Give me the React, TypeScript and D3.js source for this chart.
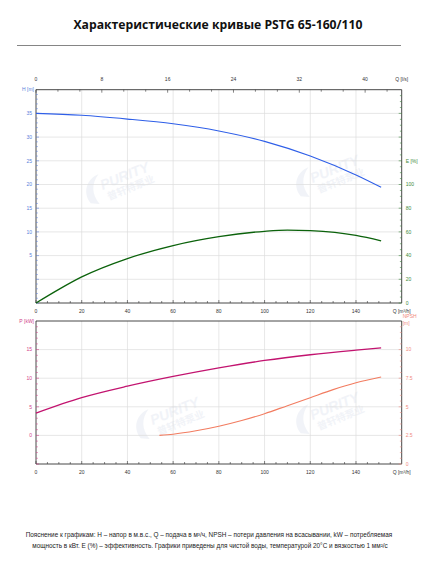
import React from "react";
import * as d3 from "d3";

// ---- data ----
const hQ = [0, 20, 40, 60, 80, 100, 120, 140, 151];
const hVal = [35, 34.6, 33.8, 32.8, 31.3, 29.1, 26, 22, 19.4];

const eQ = [0, 10, 20, 40, 60, 80, 100, 110, 120, 140, 151];
const eVal = [0, 11.5, 22, 37.5, 48.5, 56, 60.5, 61.5, 61, 57, 52.5];

const pQ = [0, 20, 40, 60, 80, 100, 120, 140, 151];
const pVal = [3.9, 6.6, 8.6, 10.3, 11.8, 13.1, 14.1, 14.9, 15.3];

const nQ = [54, 60, 70, 80, 90, 100, 110, 120, 130, 140, 151];
const nVal = [2.5, 2.6, 2.9, 3.3, 3.8, 4.4, 5.1, 5.8, 6.5, 7.1, 7.6];

const qTicksM3h = [0, 20, 40, 60, 80, 100, 120, 140];
const qTicksLs = [0, 8, 16, 24, 32, 40];
const hTicks = [5, 10, 15, 20, 25, 30, 35];
const eTicks = [0, 20, 40, 60, 80, 100];
const pTicks = [0, 5, 10, 15];
const nTicks = [0, 2.5, 5, 7.5, 10];

const title = "Характеристические кривые PSTG 65-160/110";
const note1 = "Пояснение к графикам: H – напор в м.в.с., Q – подача в м³/ч, NPSH – потери давления на всасывании, kW – потребляемая";
const note2 = "мощность в кВт. E (%) – эффективность.  Графики приведены для чистой воды, температурой 20°C и вязкостью 1 мм²/с";

const C = {
  h: "#2f5fe8",
  hText: "#5a7fdc",
  e: "#0b620b",
  eText: "#3c8a3c",
  p: "#c2136f",
  pText: "#d0408a",
  n: "#f27c60",
  nText: "#f08a80",
  axis: "#333",
  grid: "#dcdcdc",
};

const L = 36, R = 401.7;
const T1 = 89.7, B1 = 303;
const T2 = 321, B2 = 464;

export default function App() {
  const x = d3.scaleLinear().domain([0, 160]).range([L, R]);
  const xLs = d3.scaleLinear().domain([0, 160 / 3.6]).range([L, R]);
  const yH = d3.scaleLinear().domain([-5, 40]).range([B1, T1]);
  const yE = d3.scaleLinear().domain([0, 180]).range([B1, T1]);
  const yP = d3.scaleLinear().domain([-5, 20]).range([B2, T2]);
  const yN = d3.scaleLinear().domain([0, 12.5]).range([B2, T2]);

  const mk = (qs: number[], vs: number[], ys: d3.ScaleLinear<number, number>) =>
    d3.line<number>().x((_, i) => x(qs[i])).y((v) => ys(v)).curve(d3.curveMonotoneX)(vs) || "";

  const fs = 5;
  const font = "Liberation Sans, Arial, sans-serif";

  const minorQ = d3.range(0, 160, 5);
  const minorLs = d3.range(0, 44.4, 8 / 3);
  const minorH = d3.range(-5, 40, 1);
  const minorE = d3.range(0, 180, 5);
  const minorP = d3.range(-5, 20, 1);
  const minorN = d3.range(0, 12.5, 0.5);

  const wm = (cx: number, cy: number, k: number) => (
    <g key={k} transform={`translate(${cx},${cy}) rotate(-22)`} opacity={0.4}>
      <path d="M-34,6 C-38,-8 -28,-18 -16,-18 C-26,-12 -30,-2 -26,10 Z" fill="#dde3ee" />
      <text x={-18} y={-2} fontSize={14} fontWeight="bold" fontStyle="italic" fill="#dde3ee" fontFamily={font}>PURITY</text>
      <text x={-16} y={10} fontSize={10} fontWeight="bold" fill="#dde3ee" fontFamily="Noto Sans CJK SC">普轩特泵业</text>
    </g>
  );

  return (
    <svg width={436} height={567} style={{ position: "absolute", left: 0, top: 0, background: "#fff" }}>
      <rect width={436} height={567} fill="#fff" />
      <text x={218} y={29} textAnchor="middle" fontSize={12.2} fontWeight="bold" fontFamily="Open Sans, Liberation Sans, sans-serif" fill="#111">{title}</text>
      <line x1={17} x2={401} y1={45.5} y2={45.5} stroke="#666" strokeWidth={0.8} />

      {wm(120, 185, 1)}
      {wm(330, 178, 2)}
      {wm(170, 420, 3)}
      {wm(330, 415, 4)}

      {/* grids */}
      {qTicksM3h.filter((q) => q > 0).map((q) => (
        <g key={"vg" + q}>
          <line x1={x(q)} x2={x(q)} y1={T1} y2={B1} stroke={C.grid} strokeWidth={0.7} />
          <line x1={x(q)} x2={x(q)} y1={T2} y2={B2} stroke={C.grid} strokeWidth={0.7} />
        </g>
      ))}
      {[0, ...hTicks].map((h) => (
        <line key={"hg" + h} x1={L} x2={R} y1={yH(h)} y2={yH(h)} stroke={C.grid} strokeWidth={0.7} />
      ))}
      {pTicks.map((p) => (
        <line key={"pg" + p} x1={L} x2={R} y1={yP(p)} y2={yP(p)} stroke={C.grid} strokeWidth={0.7} />
      ))}

      {/* top chart frame */}
      <line x1={L} x2={R} y1={T1} y2={T1} stroke={C.axis} strokeWidth={0.9} />
      <line x1={L} x2={R} y1={B1} y2={B1} stroke={C.axis} strokeWidth={0.9} />
      <line x1={L} x2={L} y1={T1} y2={B1} stroke={C.axis} strokeWidth={0.9} />
      <line x1={R} x2={R} y1={T1} y2={B1} stroke={C.axis} strokeWidth={0.9} />
      {/* bottom chart frame */}
      <line x1={L} x2={R} y1={T2} y2={T2} stroke={C.axis} strokeWidth={0.9} />
      <line x1={L} x2={R} y1={B2} y2={B2} stroke={C.axis} strokeWidth={0.9} />
      <line x1={L} x2={L} y1={T2} y2={B2} stroke={C.axis} strokeWidth={0.9} />
      <line x1={R} x2={R} y1={T2} y2={B2} stroke={C.axis} strokeWidth={0.9} />

      {/* Q l/s top ticks */}
      {minorLs.map((q, i) => (
        <line key={"tl" + i} x1={xLs(q)} x2={xLs(q)} y1={T1} y2={T1 + (i % 3 === 0 ? 3 : 2)} stroke={C.axis} strokeWidth={0.6} />
      ))}
      {qTicksLs.map((q) => (
        <text key={"tlx" + q} x={xLs(q)} y={81} textAnchor="middle" fontSize={fs} fontFamily={font} fill="#333">{q}</text>
      ))}
      <text x={R} y={81} textAnchor="middle" fontSize={fs} fontFamily={font} fill="#333">Q [l/s]</text>

      {/* Q m3/h ticks */}
      {[B1, B2].map((b) => (
        <g key={"bq" + b}>
          {minorQ.map((q, i) => (
            <line key={i} x1={x(q)} x2={x(q)} y1={b} y2={b - (i % 4 === 0 ? 3 : 2)} stroke={C.axis} strokeWidth={0.6} />
          ))}
          {qTicksM3h.map((q) => (
            <text key={"t" + q} x={x(q)} y={b + 10} textAnchor="middle" fontSize={fs} fontFamily={font} fill="#333">{q}</text>
          ))}
          <text x={R} y={b + 10} textAnchor="middle" fontSize={fs} fontFamily={font} fill="#333">Q [m³/h]</text>
        </g>
      ))}

      {/* H axis */}
      {minorH.map((h, i) => (
        <line key={"mh" + i} x1={L} x2={L + (h % 5 === 0 ? 3 : 1.8)} y1={yH(h)} y2={yH(h)} stroke={C.hText} strokeWidth={0.6} />
      ))}
      {hTicks.map((h) => (
        <text key={"th" + h} x={L - 4} y={yH(h) + 1.7} textAnchor="end" fontSize={fs} fontFamily={font} fill={C.hText}>{h}</text>
      ))}
      <text x={L - 2} y={T1 + 1.7} textAnchor="end" fontSize={fs} fontFamily={font} fill={C.hText}>H [m]</text>

      {/* E axis */}
      {minorE.map((e, i) => (
        <line key={"me" + i} x1={R} x2={R - (e % 20 === 0 ? 3 : 1.8)} y1={yE(e)} y2={yE(e)} stroke={C.eText} strokeWidth={0.6} />
      ))}
      {eTicks.map((e) => (
        <text key={"te" + e} x={R + 4} y={yE(e) + 1.7} fontSize={fs} fontFamily={font} fill={C.eText}>{e}</text>
      ))}
      <text x={R + 4} y={yE(120) + 1.7} fontSize={fs} fontFamily={font} fill={C.eText}>E [%]</text>

      {/* P axis */}
      {minorP.map((p, i) => (
        <line key={"mp" + i} x1={L} x2={L + (p % 5 === 0 ? 3 : 1.8)} y1={yP(p)} y2={yP(p)} stroke={C.pText} strokeWidth={0.6} />
      ))}
      {pTicks.map((p) => (
        <text key={"tp" + p} x={L - 4} y={yP(p) + 1.7} textAnchor="end" fontSize={fs} fontFamily={font} fill={C.pText}>{p}</text>
      ))}
      <text x={L - 2} y={T2 + 1.7} textAnchor="end" fontSize={fs} fontFamily={font} fill={C.pText}>P [kW]</text>

      {/* NPSH axis */}
      {minorN.map((n, i) => (
        <line key={"mn" + i} x1={R} x2={R - (i % 5 === 0 ? 3 : 1.8)} y1={yN(n)} y2={yN(n)} stroke={C.nText} strokeWidth={0.6} />
      ))}
      {nTicks.map((n) => (
        <text key={"tn" + n} x={R + 4} y={yN(n) + 1.7} fontSize={fs} fontFamily={font} fill={C.nText}>{n}</text>
      ))}
      <text x={R + 1} y={T2 - 3} fontSize={fs} fontFamily={font} fill={C.nText}>NPSH</text>
      <text x={R + 1} y={T2 + 4} fontSize={fs} fontFamily={font} fill={C.nText}>[m]</text>

      {/* curves */}
      <path d={mk(hQ, hVal, yH)} fill="none" stroke={C.h} strokeWidth={1.1} />
      <path d={mk(eQ, eVal, yE)} fill="none" stroke={C.e} strokeWidth={1.3} />
      <path d={mk(pQ, pVal, yP)} fill="none" stroke={C.p} strokeWidth={1.3} />
      <path d={mk(nQ, nVal, yN)} fill="none" stroke={C.n} strokeWidth={1.1} />

      {/* footer */}
      <text x={209} y={537} textAnchor="middle" fontSize={6.4} fontFamily={font} fill="#222">{note1}</text>
      <text x={210} y={548} textAnchor="middle" fontSize={6.4} fontFamily={font} fill="#222">{note2}</text>
    </svg>
  );
}
